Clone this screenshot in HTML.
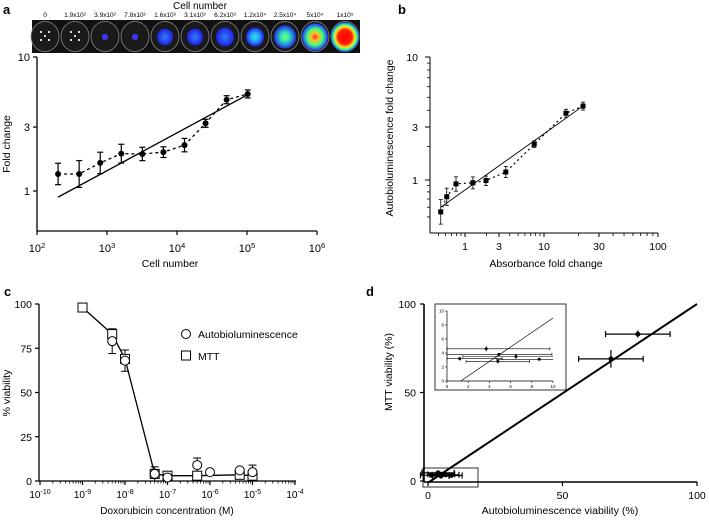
<!DOCTYPE html>
<html><head><meta charset="utf-8"><style>
body{margin:0;background:#fff;width:709px;height:518px;overflow:hidden}
svg{font-family:"Liberation Sans",Arial,sans-serif}
</style></head><body>
<svg id="s" width="709" height="518" viewBox="0 0 709 518">
<defs>
<radialGradient id="g1"><stop offset="0" stop-color="#3080ff"/><stop offset="1" stop-color="#2020e0"/></radialGradient>
<radialGradient id="g2"><stop offset="0" stop-color="#40e0e0"/><stop offset="0.5" stop-color="#20a0ff"/><stop offset="1" stop-color="#2020e0"/></radialGradient>
<radialGradient id="g3"><stop offset="0" stop-color="#80ff60"/><stop offset="0.4" stop-color="#30e0c0"/><stop offset="1" stop-color="#2030e0"/></radialGradient>
<radialGradient id="g4"><stop offset="0" stop-color="#ff3020"/><stop offset="0.3" stop-color="#ffc020"/><stop offset="0.6" stop-color="#40ff80"/><stop offset="1" stop-color="#2030ff"/></radialGradient>
<radialGradient id="g5"><stop offset="0" stop-color="#ff0000"/><stop offset="0.5" stop-color="#ff2000"/><stop offset="0.7" stop-color="#ffe020"/><stop offset="0.85" stop-color="#30ff90"/><stop offset="1" stop-color="#2040ff"/></radialGradient>
</defs>
</svg>
<script>
// ---------- data ----------
const wellLabels=["0","1.9x10²","3.9x10²","7.8x10²","1.6x10³","3.1x10³","6.2x10³","1.2x10⁴","2.5x10⁴","5x10⁴","1x10⁵"];
const aCells=[200,400,800,1600,3200,6400,12800,25600,51200,102400];
const aFold=[1.34,1.34,1.62,1.9,1.89,1.95,2.2,3.2,4.8,5.3];
const aErr=[0.08,0.1,0.08,0.07,0.05,0.04,0.05,0.03,0.03,0.03];
const aFit=[[200,0.9],[100000,5.2]];
const bAbs=[0.53,0.62,0.79,1.29,1.97,3.6,7.7,15.5,21.8];
const bAuto=[0.55,0.73,0.93,0.95,0.99,1.18,2.1,3.8,4.3];
const bErr=[0.1,0.07,0.06,0.05,0.04,0.05,0.03,0.03,0.03];
const bFit=[[0.53,0.6],[21.8,4.3]];
const cConcM=[1e-9,5e-9,1e-8,5e-8,1e-7,5e-7,5e-6,1e-5];
const cMTT=[98,83,69,4,3,3,3.5,3];
const cConcA=[5e-9,1e-8,5e-8,1e-7,5e-7,1e-6,5e-6,1e-5];
const cAuto=[79,68,4,2,9,5,6,5];
const cAutoErr=[7,6,4,1,4,1,1,4];
const dAuto=[68,78,1.2,3.7,4.9,4.8,6.5,8.7];
const dMTT=[69,83,3.2,4.6,3.8,2.8,3.5,3.1];
const dXerr=[12,12,4,6,5,3,5,4];
const dYerr=[5,2,0.3,0.4,0.2,0.3,0.4,0.2];
const insetFit=[[1.3,0],[10,9]];

const S=document.getElementById('s');const NS='http://www.w3.org/2000/svg';
function el(t,a,p){const e=document.createElementNS(NS,t);for(const k in a)e.setAttribute(k,a[k]);(p||S).appendChild(e);return e;}
function line(x1,y1,x2,y2,w,dash){return el('line',{x1,y1,x2,y2,stroke:'#000','stroke-width':w||1,'stroke-dasharray':dash||'none'});}
function text(x,y,s,size,anchor,extra){const e=el('text',Object.assign({x,y,'font-size':size||10,'text-anchor':anchor||'middle',fill:'#000'},extra||{}));e.textContent=s;return e;}
function sup(x,y,base,ex,size){const t=text(x,y,'',size||10,'middle');const a=el('tspan',{},t);a.textContent=base;const b=el('tspan',{dy:-4,'font-size':(size||10)*0.7},t);b.textContent=ex;return t;}
function pw(anch){return v=>{const lv=Math.log10(v);for(let i=0;i<anch.length-1;i++){const a=anch[i],b=anch[i+1];if(lv<=Math.log10(b[0])||i==anch.length-2){const f=(lv-Math.log10(a[0]))/(Math.log10(b[0])-Math.log10(a[0]));return a[1]+f*(b[1]-a[1]);}}};}

// panel labels
let t;
t=text(3,14,'a',13,'start',{'font-weight':'bold'});
t=text(398,14,'b',13,'start',{'font-weight':'bold'});
t=text(4,296,'c',13,'start',{'font-weight':'bold'});
t=text(366,296,'d',13,'start',{'font-weight':'bold'});

// ---------- Panel a strip ----------
t=text(200,9,'Cell number',10);
const strip=el('rect',{x:32,y:20,width:328,height:33,fill:'#111'});


const wellX=i=>45+i*30;
const fills=[null,null,'#4030ff','#4030ff','url(#g1)','url(#g1)','url(#g1)','url(#g2)','url(#g3)','url(#g4)','url(#g5)'];
const rad=[0,0,3,3,8,8,9,9,11,13,14];
wellLabels.forEach((s,i)=>{
 const cx=wellX(i);
 const w=el('ellipse',{cx,cy:36.5,rx:14,ry:15,fill:'#1a1a1a',stroke:'#888','stroke-width':0.8});
 
 
 if(fills[i])el('ellipse',{cx,cy:37,rx:rad[i],ry:rad[i]*1.05,fill:fills[i]});
 if(i<2){[[-4,-4],[4,-4],[-4,4],[4,4],[0,0]].forEach(p=>el('rect',{x:cx+p[0]-1,y:36+p[1]-1,width:2,height:2,fill:'#ddd'}));}
 const l=text(cx,17,s,6.5);
 
 
});

// ---------- Panel a chart ----------
const ax=v=>37+70*(Math.log10(v)-2);
const ay=v=>191-134*Math.log10(v);
line(37,57,37,231,1.3);line(37,231,317,231,1.3);
[10,3,1].forEach(v=>{line(33,ay(v),37,ay(v),1.2);const l=text(30,ay(v)+4,String(v),11,'end');});
[2,3,4].forEach((e,i)=>{});
for(let e=2;e<=6;e++){line(ax(10**e),231,ax(10**e),235,1.2);const l=sup(ax(10**e),252,'10',String(e),11);}
t=text(170,267,'Cell number',10.5);
t=text(0,0,'Fold change',10.5,'middle',{transform:'translate(10,144) rotate(-90)'});
line(ax(aFit[0][0]),ay(aFit[0][1]),ax(aFit[1][0]),ay(aFit[1][1]),1.3);
const aPath=el('polyline',{points:aCells.map((c,i)=>ax(c)+','+ay(aFold[i])).join(' '),fill:'none',stroke:'#000','stroke-width':1.3,'stroke-dasharray':'3,3'});

aCells.forEach((c,i)=>{const x=ax(c),y1=ay(aFold[i]*10**aErr[i]),y2=ay(aFold[i]/10**aErr[i]);
 line(x,y1,x,y2,1.2);line(x-3,y1,x+3,y1,1.2);line(x-3,y2,x+3,y2,1.2);
 const p=el('circle',{cx:x,cy:ay(aFold[i]),r:3,fill:'#000'});});

// ---------- Panel b ----------
const bx=pw([[0.4,430],[1,465],[3,499],[10,544],[30,599],[100,658]]);
const by=pw([[0.37,233],[1,180],[3,127],[10,57]]);
line(430,57,430,233,1);line(430,233,658,233,1);
[10,3,1].forEach(v=>{line(425,by(v),430,by(v),1);const l=text(418,by(v)+4,String(v),10.5,'end');});
[0.5,0.6,0.7,0.8,0.9,2,4,5,6,7,8,9].forEach(v=>line(427,by(v),430,by(v),0.8));
[1,3,10,30,100].forEach(v=>{line(bx(v),233,bx(v),237,1);const l=text(bx(v),250,String(v),10.5);});
[0.5,0.6,0.7,0.8,0.9,2,4,5,6,7,8,9,20,40,50,60,70,80,90].forEach(v=>line(bx(v),233,bx(v),236,0.8));
t=text(546,267,'Absorbance fold change',10.5);
t=text(0,0,'Autobioluminescence fold change',10.5,'middle',{transform:'translate(393,138) rotate(-90)'});
line(bx(bFit[0][0]),by(bFit[0][1]),bx(bFit[1][0]),by(bFit[1][1]),0.9);
const bPath=el('polyline',{points:bAbs.map((c,i)=>bx(c)+','+by(bAuto[i])).join(' '),fill:'none',stroke:'#000','stroke-width':1.2,'stroke-dasharray':'2,3'});

bAbs.forEach((c,i)=>{const x=bx(c),y1=by(bAuto[i]*10**bErr[i]),y2=by(bAuto[i]/10**bErr[i]);
 line(x,y1,x,y2,0.8);line(x-2,y1,x+2,y1,0.8);line(x-2,y2,x+2,y2,0.8);
 const p=el('rect',{x:x-2.5,y:by(bAuto[i])-2.5,width:5,height:5,fill:'#000'});});

// ---------- Panel c ----------
const cx_=v=>40+42.5*(Math.log10(v)+10);
const cy=v=>481-1.77*v;
line(39,304,39,481,1.3);line(39,481,296,481,1.3);
[0,25,50,75,100].forEach(v=>{line(35,cy(v),39,cy(v),1.2);const l=text(32,cy(v)+4,String(v),10.5,'end');});
for(let e=-10;e<=-4;e++){line(cx_(10**e),481,cx_(10**e),485,1.2);const l=sup(cx_(10**e),498,'10',String(e),10);
 if(e<-4)for(let k=2;k<10;k++)line(cx_(k*10**e),481,cx_(k*10**e),483.5,0.8);}
t=text(167,514,'Doxorubicin concentration (M)',10);
t=text(0,0,'% viability',10.5,'middle',{transform:'translate(10,393) rotate(-90)'});
const cPath=el('polyline',{points:cConcM.map((c,i)=>cx_(c)+','+cy(cMTT[i])).join(' '),fill:'none',stroke:'#000','stroke-width':1.3});

cConcA.forEach((c,i)=>{const x=cx_(c),y1=cy(cAuto[i]+cAutoErr[i]),y2=cy(cAuto[i]-cAutoErr[i]);
 line(x,y1,x,y2,1);line(x-4,y1,x+4,y1,1);line(x-4,y2,x+4,y2,1);});
cConcM.forEach((c,i)=>{const p=el('rect',{x:cx_(c)-4.5,y:cy(cMTT[i])-4.5,width:9,height:9,fill:'#fff',stroke:'#000','stroke-width':1});});
cConcA.forEach((c,i)=>{const p=el('circle',{cx:cx_(c),cy:cy(cAuto[i]),r:4.5,fill:'#fff',stroke:'#000','stroke-width':1});});
let lg=el('circle',{cx:186,cy:334,r:4.5,fill:'#fff',stroke:'#000'});
t=text(198,338,'Autobioluminescence',10.5,'start');
lg=el('rect',{x:181.5,y:351,width:9,height:9,fill:'#fff',stroke:'#000'});
t=text(198,360,'MTT',10.5,'start');

// ---------- Panel d ----------
const dx=v=>428+2.69*v;
const dy=v=>481-1.77*v;
line(424,304,424,482,1.6);line(424,482,697,482,1.6);
[0,50,100].forEach(v=>{line(420,dy(v),424,dy(v),1.2);let l=text(416,dy(v)+4,String(v),10.5,'end');
 line(dx(v),482,dx(v),486,1.2);l=text(dx(v),499,String(v),10.5);});
t=text(560,514,'Autobioluminescence viability (%)',10.5);
t=text(0,0,'MTT viability (%)',10.5,'middle',{transform:'translate(392,372) rotate(-90)'});
line(dx(0),dy(-1),dx(100),dy(100),2);
dAuto.forEach((v,i)=>{const x=dx(v),y=dy(dMTT[i]);
 line(dx(v-dXerr[i]),y,dx(v+dXerr[i]),y,1.2);line(dx(v-dXerr[i]),y-3,dx(v-dXerr[i]),y+3,1.2);line(dx(v+dXerr[i]),y-3,dx(v+dXerr[i]),y+3,1.2);
 line(x,dy(dMTT[i]+dYerr[i]),x,dy(dMTT[i]-dYerr[i]),1.2);
 const p=el('circle',{cx:x,cy:y,r:2.5,fill:'#000'});});
const zb=el('rect',{x:423,y:468,width:55,height:19,fill:'none',stroke:'#000','stroke-width':0.8});
// inset
const ib=el('rect',{x:435,y:304,width:131,height:86,fill:'#fff',stroke:'#000','stroke-width':0.8});
const ix=v=>447+10.6*v, iy=v=>381-7*v;
line(447,311,447,381,0.7);line(447,381,553,381,0.7);
[0,2,4,6,8,10].forEach(v=>{line(445,iy(v),447,iy(v),0.6);let l=text(444,iy(v)+1.5,String(v),4.5,'end');
 line(ix(v),381,ix(v),383,0.6);l=text(ix(v),388,String(v),4.5);});
line(ix(insetFit[0][0]),iy(insetFit[0][1]),ix(insetFit[1][0]),iy(insetFit[1][1]),0.7);
dAuto.forEach((v,i)=>{if(v>10)return;const x=ix(v),y=iy(dMTT[i]);
 const x1=Math.max(447,ix(v-dXerr[i])),x2=Math.min(553,ix(v+dXerr[i]));
 line(x1,y,x2,y,0.6);line(x1,y-1.5,x1,y+1.5,0.6);if(x2<553)line(x2,y-1.5,x2,y+1.5,0.6);
 line(x,iy(dMTT[i]+dYerr[i]),x,iy(dMTT[i]-dYerr[i]),0.6);
 const p=el('circle',{cx:x,cy:y,r:1.5,fill:'#000'});});
</script>
</body></html>
